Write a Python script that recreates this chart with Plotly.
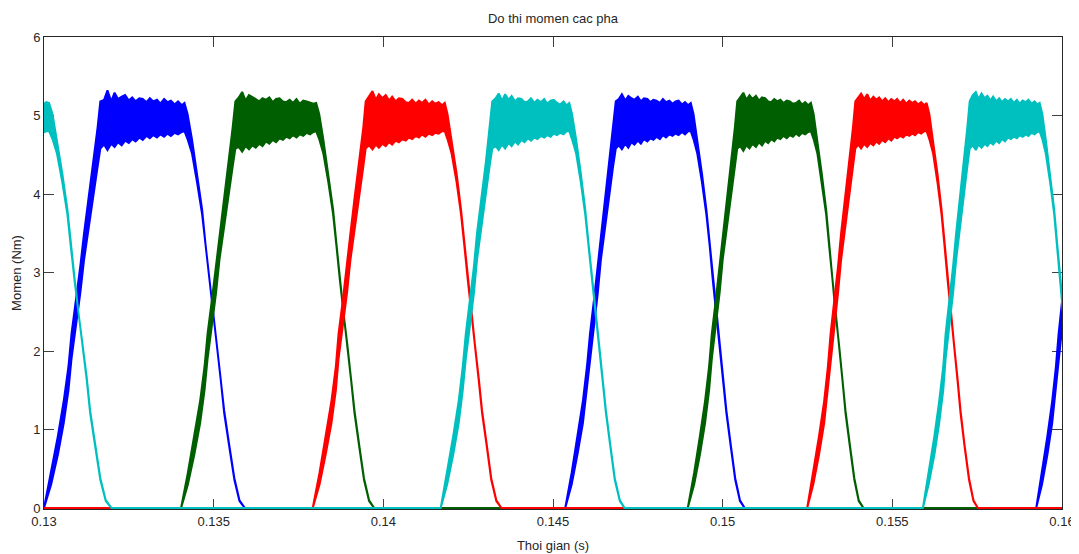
import plotly.graph_objects as go

# ---- edge shapes (torque, Nm): lower / upper envelope of the ripple band
rise_lo = [0, 0.30, 0.68, 1.08, 1.50, 1.90, 2.33, 2.74, 3.16, 3.58, 3.98, 4.35, 4.58]
rise_hi = [0, 0.45, 0.92, 1.36, 1.80, 2.22, 2.66, 3.08, 3.50, 3.94, 4.40, 4.85, 5.18]
fall_lo = [4.80, 4.70, 4.52, 4.15, 3.74, 3.33, 2.90, 2.48, 2.05, 1.63, 1.21, 0.78, 0.36, 0.09, 0]
fall_hi = [5.16, 5.02, 4.70, 4.26, 3.80, 3.36, 2.93, 2.51, 2.08, 1.66, 1.24, 0.80, 0.38, 0.10, 0]

# ---- plateau ripple envelopes per pulse
blue1_top = [5.20, 5.32, 5.18, 5.29, 5.21, 5.24, 5.26, 5.19, 5.23, 5.18, 5.22, 5.21, 5.17, 5.22, 5.18, 5.20, 5.15, 5.21, 5.17, 5.19, 5.14, 5.18, 5.13]
blue1_bot = [4.63, 4.56, 4.64, 4.60, 4.66, 4.62, 4.68, 4.65, 4.70, 4.67, 4.72, 4.69, 4.74, 4.71, 4.75, 4.72, 4.76, 4.73, 4.77, 4.74, 4.78, 4.76, 4.79]
blue2_top = [5.21, 5.27, 5.19, 5.25, 5.22, 5.20, 5.24, 5.18, 5.22, 5.21, 5.17, 5.20, 5.19, 5.16, 5.21, 5.17, 5.19, 5.15, 5.18, 5.19, 5.14, 5.17, 5.13]
blue2_bot = [4.62, 4.57, 4.64, 4.59, 4.66, 4.63, 4.68, 4.64, 4.70, 4.67, 4.71, 4.69, 4.73, 4.70, 4.75, 4.72, 4.76, 4.74, 4.77, 4.75, 4.79, 4.76, 4.80]
green1_top = [5.23, 5.30, 5.19, 5.26, 5.24, 5.21, 5.18, 5.22, 5.20, 5.23, 5.17, 5.21, 5.22, 5.18, 5.17, 5.20, 5.16, 5.21, 5.15, 5.19, 5.18, 5.16, 5.15]
green1_bot = [4.60, 4.54, 4.61, 4.57, 4.62, 4.59, 4.64, 4.61, 4.67, 4.64, 4.69, 4.66, 4.71, 4.69, 4.73, 4.71, 4.75, 4.72, 4.76, 4.74, 4.78, 4.76, 4.79]
green2_top = [5.24, 5.29, 5.20, 5.26, 5.21, 5.25, 5.19, 5.23, 5.22, 5.18, 5.17, 5.21, 5.18, 5.20, 5.16, 5.19, 5.18, 5.15, 5.16, 5.19, 5.14, 5.17, 5.13]
green2_bot = [4.61, 4.55, 4.62, 4.58, 4.64, 4.60, 4.66, 4.62, 4.68, 4.65, 4.70, 4.67, 4.72, 4.70, 4.74, 4.71, 4.75, 4.73, 4.77, 4.74, 4.78, 4.76, 4.79]
red1_top = [5.25, 5.31, 5.20, 5.27, 5.22, 5.26, 5.19, 5.24, 5.18, 5.22, 5.21, 5.17, 5.16, 5.20, 5.15, 5.19, 5.16, 5.20, 5.14, 5.18, 5.15, 5.17, 5.13]
red1_bot = [4.62, 4.57, 4.63, 4.59, 4.64, 4.61, 4.66, 4.63, 4.68, 4.66, 4.70, 4.68, 4.72, 4.70, 4.74, 4.72, 4.76, 4.73, 4.77, 4.75, 4.78, 4.77, 4.80]
red2_top = [5.23, 5.28, 5.21, 5.27, 5.19, 5.24, 5.20, 5.23, 5.18, 5.22, 5.17, 5.21, 5.18, 5.21, 5.16, 5.20, 5.15, 5.19, 5.16, 5.18, 5.14, 5.17, 5.13]
red2_bot = [4.63, 4.58, 4.64, 4.60, 4.65, 4.62, 4.67, 4.64, 4.69, 4.66, 4.71, 4.68, 4.73, 4.71, 4.74, 4.72, 4.76, 4.74, 4.77, 4.75, 4.79, 4.77, 4.80]
cyan0_top = [5.19, 5.15, 5.18, 5.14, 5.17]
cyan0_bot = [4.74, 4.77, 4.75, 4.78, 4.80]
cyan1_top = [5.22, 5.28, 5.19, 5.27, 5.20, 5.25, 5.18, 5.22, 5.21, 5.17, 5.18, 5.22, 5.16, 5.20, 5.17, 5.21, 5.15, 5.19, 5.20, 5.16, 5.14, 5.18, 5.13]
cyan1_bot = [4.61, 4.56, 4.63, 4.58, 4.65, 4.61, 4.67, 4.63, 4.69, 4.66, 4.71, 4.68, 4.72, 4.70, 4.74, 4.72, 4.75, 4.73, 4.77, 4.75, 4.78, 4.76, 4.80]
cyan2_top = [5.26, 5.30, 5.21, 5.28, 5.22, 5.25, 5.19, 5.24, 5.18, 5.22, 5.17, 5.21, 5.18, 5.21, 5.16, 5.20, 5.15, 5.19, 5.17, 5.20, 5.15, 5.18, 5.14]
cyan2_bot = [4.62, 4.56, 4.63, 4.59, 4.64, 4.61, 4.66, 4.63, 4.68, 4.65, 4.70, 4.67, 4.72, 4.70, 4.73, 4.71, 4.75, 4.73, 4.76, 4.74, 4.78, 4.76, 4.79]

# ---- sample times (s) of each pulse
blue1_t = [0.13000, 0.13021, 0.13041, 0.13058, 0.13072, 0.13081, 0.13095, 0.13107, 0.13118, 0.13131, 0.13146, 0.13158, 0.13166,
           0.13177, 0.13187, 0.13198, 0.13208, 0.13218, 0.13229, 0.13239, 0.13250, 0.13260, 0.13270, 0.13281, 0.13291,
           0.13302, 0.13312, 0.13322, 0.13333, 0.13343, 0.13354, 0.13364, 0.13374, 0.13385, 0.13395, 0.13406,
           0.13414, 0.13423, 0.13436, 0.13451, 0.13466, 0.13476, 0.13487, 0.13497, 0.13510, 0.13521, 0.13531, 0.13546, 0.13561, 0.13576, 0.13592]
blue2_t = [0.14536, 0.14555, 0.14572, 0.14588, 0.14600, 0.14609, 0.14621, 0.14632, 0.14641, 0.14653, 0.14666, 0.14677, 0.14685,
           0.14694, 0.14703, 0.14713, 0.14722, 0.14731, 0.14740, 0.14750, 0.14759, 0.14768, 0.14778, 0.14787, 0.14796,
           0.14805, 0.14815, 0.14824, 0.14833, 0.14843, 0.14852, 0.14861, 0.14870, 0.14880, 0.14889, 0.14898,
           0.14906, 0.14914, 0.14925, 0.14939, 0.14952, 0.14962, 0.14971, 0.14980, 0.14991, 0.15001, 0.15011, 0.15024, 0.15037, 0.15051, 0.15065]
blue3_t = [0.15924, 0.15941, 0.15957, 0.15971, 0.15982, 0.15990, 0.16001, 0.16011]
green1_t = [0.13404, 0.13424, 0.13443, 0.13460, 0.13473, 0.13482, 0.13495, 0.13507, 0.13517, 0.13530, 0.13544, 0.13556, 0.13564,
            0.13574, 0.13584, 0.13594, 0.13604, 0.13614, 0.13624, 0.13634, 0.13644, 0.13654, 0.13664, 0.13674, 0.13684,
            0.13694, 0.13704, 0.13714, 0.13724, 0.13734, 0.13744, 0.13754, 0.13764, 0.13774, 0.13784, 0.13794,
            0.13802, 0.13811, 0.13823, 0.13838, 0.13852, 0.13862, 0.13872, 0.13882, 0.13894, 0.13905, 0.13915, 0.13929, 0.13943, 0.13958, 0.13973]
green2_t = [0.14897, 0.14916, 0.14933, 0.14948, 0.14960, 0.14968, 0.14980, 0.14991, 0.15000, 0.15012, 0.15025, 0.15036, 0.15043,
            0.15052, 0.15061, 0.15070, 0.15079, 0.15088, 0.15098, 0.15107, 0.15116, 0.15125, 0.15134, 0.15143, 0.15152,
            0.15161, 0.15170, 0.15179, 0.15189, 0.15198, 0.15207, 0.15216, 0.15225, 0.15234, 0.15243, 0.15252,
            0.15260, 0.15268, 0.15279, 0.15292, 0.15305, 0.15314, 0.15323, 0.15332, 0.15343, 0.15353, 0.15362, 0.15375, 0.15388, 0.15401, 0.15415]
red1_t = [0.13792, 0.13812, 0.13830, 0.13847, 0.13860, 0.13868, 0.13881, 0.13893, 0.13903, 0.13915, 0.13929, 0.13941, 0.13948,
          0.13958, 0.13968, 0.13978, 0.13987, 0.13997, 0.14007, 0.14017, 0.14026, 0.14036, 0.14046, 0.14056, 0.14066,
          0.14075, 0.14085, 0.14095, 0.14105, 0.14114, 0.14124, 0.14134, 0.14144, 0.14153, 0.14163, 0.14173,
          0.14181, 0.14189, 0.14201, 0.14216, 0.14229, 0.14239, 0.14249, 0.14259, 0.14270, 0.14281, 0.14291, 0.14305, 0.14318, 0.14333, 0.14348]
red2_t = [0.15249, 0.15267, 0.15284, 0.15299, 0.15310, 0.15318, 0.15330, 0.15340, 0.15349, 0.15361, 0.15373, 0.15384, 0.15391,
          0.15400, 0.15408, 0.15417, 0.15426, 0.15435, 0.15444, 0.15453, 0.15461, 0.15470, 0.15479, 0.15488, 0.15497,
          0.15506, 0.15514, 0.15523, 0.15532, 0.15541, 0.15550, 0.15559, 0.15567, 0.15576, 0.15585, 0.15594,
          0.15601, 0.15609, 0.15620, 0.15633, 0.15645, 0.15654, 0.15663, 0.15672, 0.15682, 0.15692, 0.15701, 0.15713, 0.15726, 0.15739, 0.15752]
cyan0_t = [0.12964, 0.12974, 0.12985, 0.12996, 0.13007,
           0.13015, 0.13025, 0.13038, 0.13054, 0.13069, 0.13079, 0.13090, 0.13101, 0.13114, 0.13126, 0.13136, 0.13151, 0.13166, 0.13182, 0.13199]
cyan1_t = [0.14169, 0.14188, 0.14206, 0.14222, 0.14234, 0.14243, 0.14255, 0.14267, 0.14276, 0.14289, 0.14302, 0.14313, 0.14321,
           0.14331, 0.14340, 0.14350, 0.14359, 0.14369, 0.14378, 0.14388, 0.14397, 0.14407, 0.14416, 0.14426, 0.14435,
           0.14445, 0.14454, 0.14464, 0.14474, 0.14483, 0.14493, 0.14502, 0.14512, 0.14521, 0.14531, 0.14540,
           0.14548, 0.14556, 0.14568, 0.14582, 0.14595, 0.14605, 0.14615, 0.14624, 0.14636, 0.14646, 0.14656, 0.14669, 0.14682, 0.14697, 0.14711]
cyan2_t = [0.15590, 0.15607, 0.15624, 0.15638, 0.15650, 0.15657, 0.15669, 0.15679, 0.15688, 0.15699, 0.15711, 0.15721, 0.15728,
           0.15737, 0.15746, 0.15754, 0.15763, 0.15772, 0.15780, 0.15789, 0.15797, 0.15806, 0.15815, 0.15823, 0.15832,
           0.15841, 0.15849, 0.15858, 0.15867, 0.15875, 0.15884, 0.15893, 0.15901, 0.15910, 0.15919, 0.15927,
           0.15934, 0.15942, 0.15952, 0.15965, 0.15977, 0.15986, 0.15995, 0.16003, 0.16014]

x_ticks = [0.13, 0.135, 0.14, 0.145, 0.15, 0.155, 0.16]
x_tick_text = ["0.13", "0.135", "0.14", "0.145", "0.15", "0.155", "0.16"]
y_ticks = [0, 1, 2, 3, 4, 5, 6]

# ---- assemble phases
blue_t = blue1_t + blue2_t + blue3_t
blue_hi = rise_hi + blue1_top + fall_hi + rise_hi + blue2_top + fall_hi + rise_hi[:8]
blue_lo = rise_lo + blue1_bot + fall_lo + rise_lo + blue2_bot + fall_lo + rise_lo[:8]

green_t = [0.1299] + green1_t + green2_t + [0.1602]
green_hi = [0] + rise_hi + green1_top + fall_hi + rise_hi + green2_top + fall_hi + [0]
green_lo = [0] + rise_lo + green1_bot + fall_lo + rise_lo + green2_bot + fall_lo + [0]

red_t = [0.1299] + red1_t + red2_t + [0.1602]
red_hi = [0] + rise_hi + red1_top + fall_hi + rise_hi + red2_top + fall_hi + [0]
red_lo = [0] + rise_lo + red1_bot + fall_lo + rise_lo + red2_bot + fall_lo + [0]

cyan_t = cyan0_t + cyan1_t + cyan2_t
cyan_hi = cyan0_top + fall_hi + rise_hi + cyan1_top + fall_hi + rise_hi + cyan2_top + fall_hi[:9]
cyan_lo = cyan0_bot + fall_lo + rise_lo + cyan1_bot + fall_lo + rise_lo + cyan2_bot + fall_lo[:9]

phases = [
    ("blue", blue_t, blue_lo, blue_hi, "#0000ff"),
    ("green", green_t, green_lo, green_hi, "#005f00"),
    ("red", red_t, red_lo, red_hi, "#ff0000"),
    ("cyan", cyan_t, cyan_lo, cyan_hi, "#00bfbf"),
]

fig = go.Figure()
for name, t, lo, hi, col in phases:
    assert len(t) == len(lo) == len(hi), (name, len(t), len(lo), len(hi))
    fig.add_trace(go.Scatter(
        x=t + t[::-1], y=hi + lo[::-1],
        mode="lines", fill="toself", fillcolor=col,
        line=dict(color=col, width=2), name=name, hoverinfo="skip",
    ))

# the page adds an 8 px body margin at top/left, so the figure is 8 px smaller
font = dict(family="Liberation Sans, Arial, sans-serif", size=13, color="#262626")
fig.update_layout(
    width=1071, height=546,
    margin=dict(l=36, r=17, t=29, b=45, autoexpand=False),
    paper_bgcolor="white", plot_bgcolor="white",
    showlegend=False, font=font,
    title=dict(text="Do thi momen cac pha", x=0.5, xref="paper", xanchor="center",
               y=1 - 10 / 546, yref="container", yanchor="middle", font=font),
)
fig.update_xaxes(
    range=[0.13, 0.16], tickvals=x_ticks, ticktext=x_tick_text,
    ticks="inside", ticklen=10, tickcolor="#404040", tickwidth=1,
    showline=True, linecolor="#262626", linewidth=1, mirror="ticks",
    showgrid=False, zeroline=False, layer="below traces", automargin=False,
    title=dict(text="Thoi gian (s)", standoff=13, font=font),
)
fig.update_yaxes(
    range=[-0.012, 6], tickvals=y_ticks,
    ticks="inside", ticklen=10, tickcolor="#404040", tickwidth=1,
    showline=True, linecolor="#262626", linewidth=1, mirror="ticks",
    showgrid=False, zeroline=False, layer="below traces", automargin=False,
    title=dict(text="Momen (Nm)", standoff=8, font=font),
)

fig.write_html("out.html")
